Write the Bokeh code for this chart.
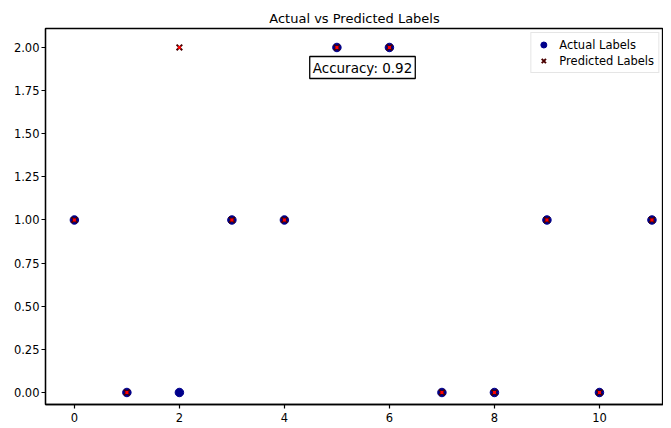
from bokeh.plotting import figure
from bokeh.models import ColumnDataSource, Range1d, Label, Legend, LegendItem, FixedTicker, CustomJSTickFormatter
from bokeh.embed import file_html
from bokeh.resources import INLINE

index = list(range(12))
actual_labels = [1, 0, 0, 1, 1, 2, 2, 0, 0, 1, 0, 1]
predicted_labels = [1, 0, 2, 1, 1, 2, 2, 0, 0, 1, 0, 1]
accuracy = 0.92
title_text = "Actual vs Predicted Labels"
x_ticks = [0, 2, 4, 6, 8, 10]
y_ticks = [0.0, 0.25, 0.5, 0.75, 1.0, 1.25, 1.5, 1.75, 2.0]

FONT = "DejaVu Sans"

p = figure(
    frame_width=618, frame_height=376,
    output_backend="svg", toolbar_location=None,
    x_range=Range1d(-0.55, 11.22), y_range=Range1d(-0.0696, 2.110),
    min_border_left=45, min_border_right=0, min_border_top=28, min_border_bottom=0,
)
p.title.text = title_text
p.title.align = "center"
p.title.text_font = FONT
p.title.text_font_size = "13px"
p.title.text_font_style = "normal"
p.title.text_color = "black"
p.title.offset = 0
p.title.standoff = 5

p.grid.visible = False
p.outline_line_color = "black"
p.outline_line_width = 1.3

for ax in (p.xaxis, p.yaxis):
    ax.major_label_text_font = FONT
    ax.major_label_text_font_size = "11.5px"
    ax.major_label_text_color = "black"
    ax.axis_line_color = "black"
    ax.axis_line_width = 1.3
    ax.major_tick_line_color = "black"
    ax.major_tick_line_width = 1.2
    ax.major_tick_in = 0
    ax.major_tick_out = 4
    ax.minor_tick_line_color = None
    ax.major_label_standoff = 2
p.xaxis.major_label_standoff = 4
p.xaxis.ticker = FixedTicker(ticks=x_ticks)
p.yaxis.ticker = FixedTicker(ticks=y_ticks)
p.yaxis.formatter = CustomJSTickFormatter(code="return tick.toFixed(2);")

src = ColumnDataSource(dict(x=index, actual=actual_labels, pred=predicted_labels))
r_act = p.scatter("x", "actual", source=src, marker="circle", size=8.5,
                  fill_color="#00008b", line_color="#00008b")
r_pred = p.scatter("x", "pred", source=src, marker="x", size=8,
                   line_color="#4a0000", line_width=2)
r_dot = p.scatter("x", "pred", source=src, marker="square", size=3,
                  fill_color="red", line_color=None)

legend = Legend(items=[LegendItem(label="Actual Labels", renderers=[r_act]),
                       LegendItem(label="Predicted Labels", renderers=[r_pred])],
                location="top_right")
legend.label_text_font = FONT
legend.label_text_font_size = "11.5px"
legend.label_text_color = "black"
legend.label_height = 15
legend.glyph_height = 15
legend.glyph_width = 16
legend.label_standoff = 8
legend.spacing = 1
legend.padding = 4
legend.margin = 4
legend.border_line_color = "#cccccc"
legend.border_line_width = 1
legend.background_fill_alpha = 0.9
p.add_layout(legend)

acc = Label(x=317, y=337, x_units="screen", y_units="screen",
            text=f"Accuracy: {accuracy:.2f}", text_font=FONT, text_font_size="13.5px",
            text_color="black",
            text_align="center", text_baseline="middle",
            border_line_color="black", border_line_width=1.3,
            background_fill_color="white", padding=3)
p.add_layout(acc)

open("out.html", "w").write(file_html(p, INLINE))
